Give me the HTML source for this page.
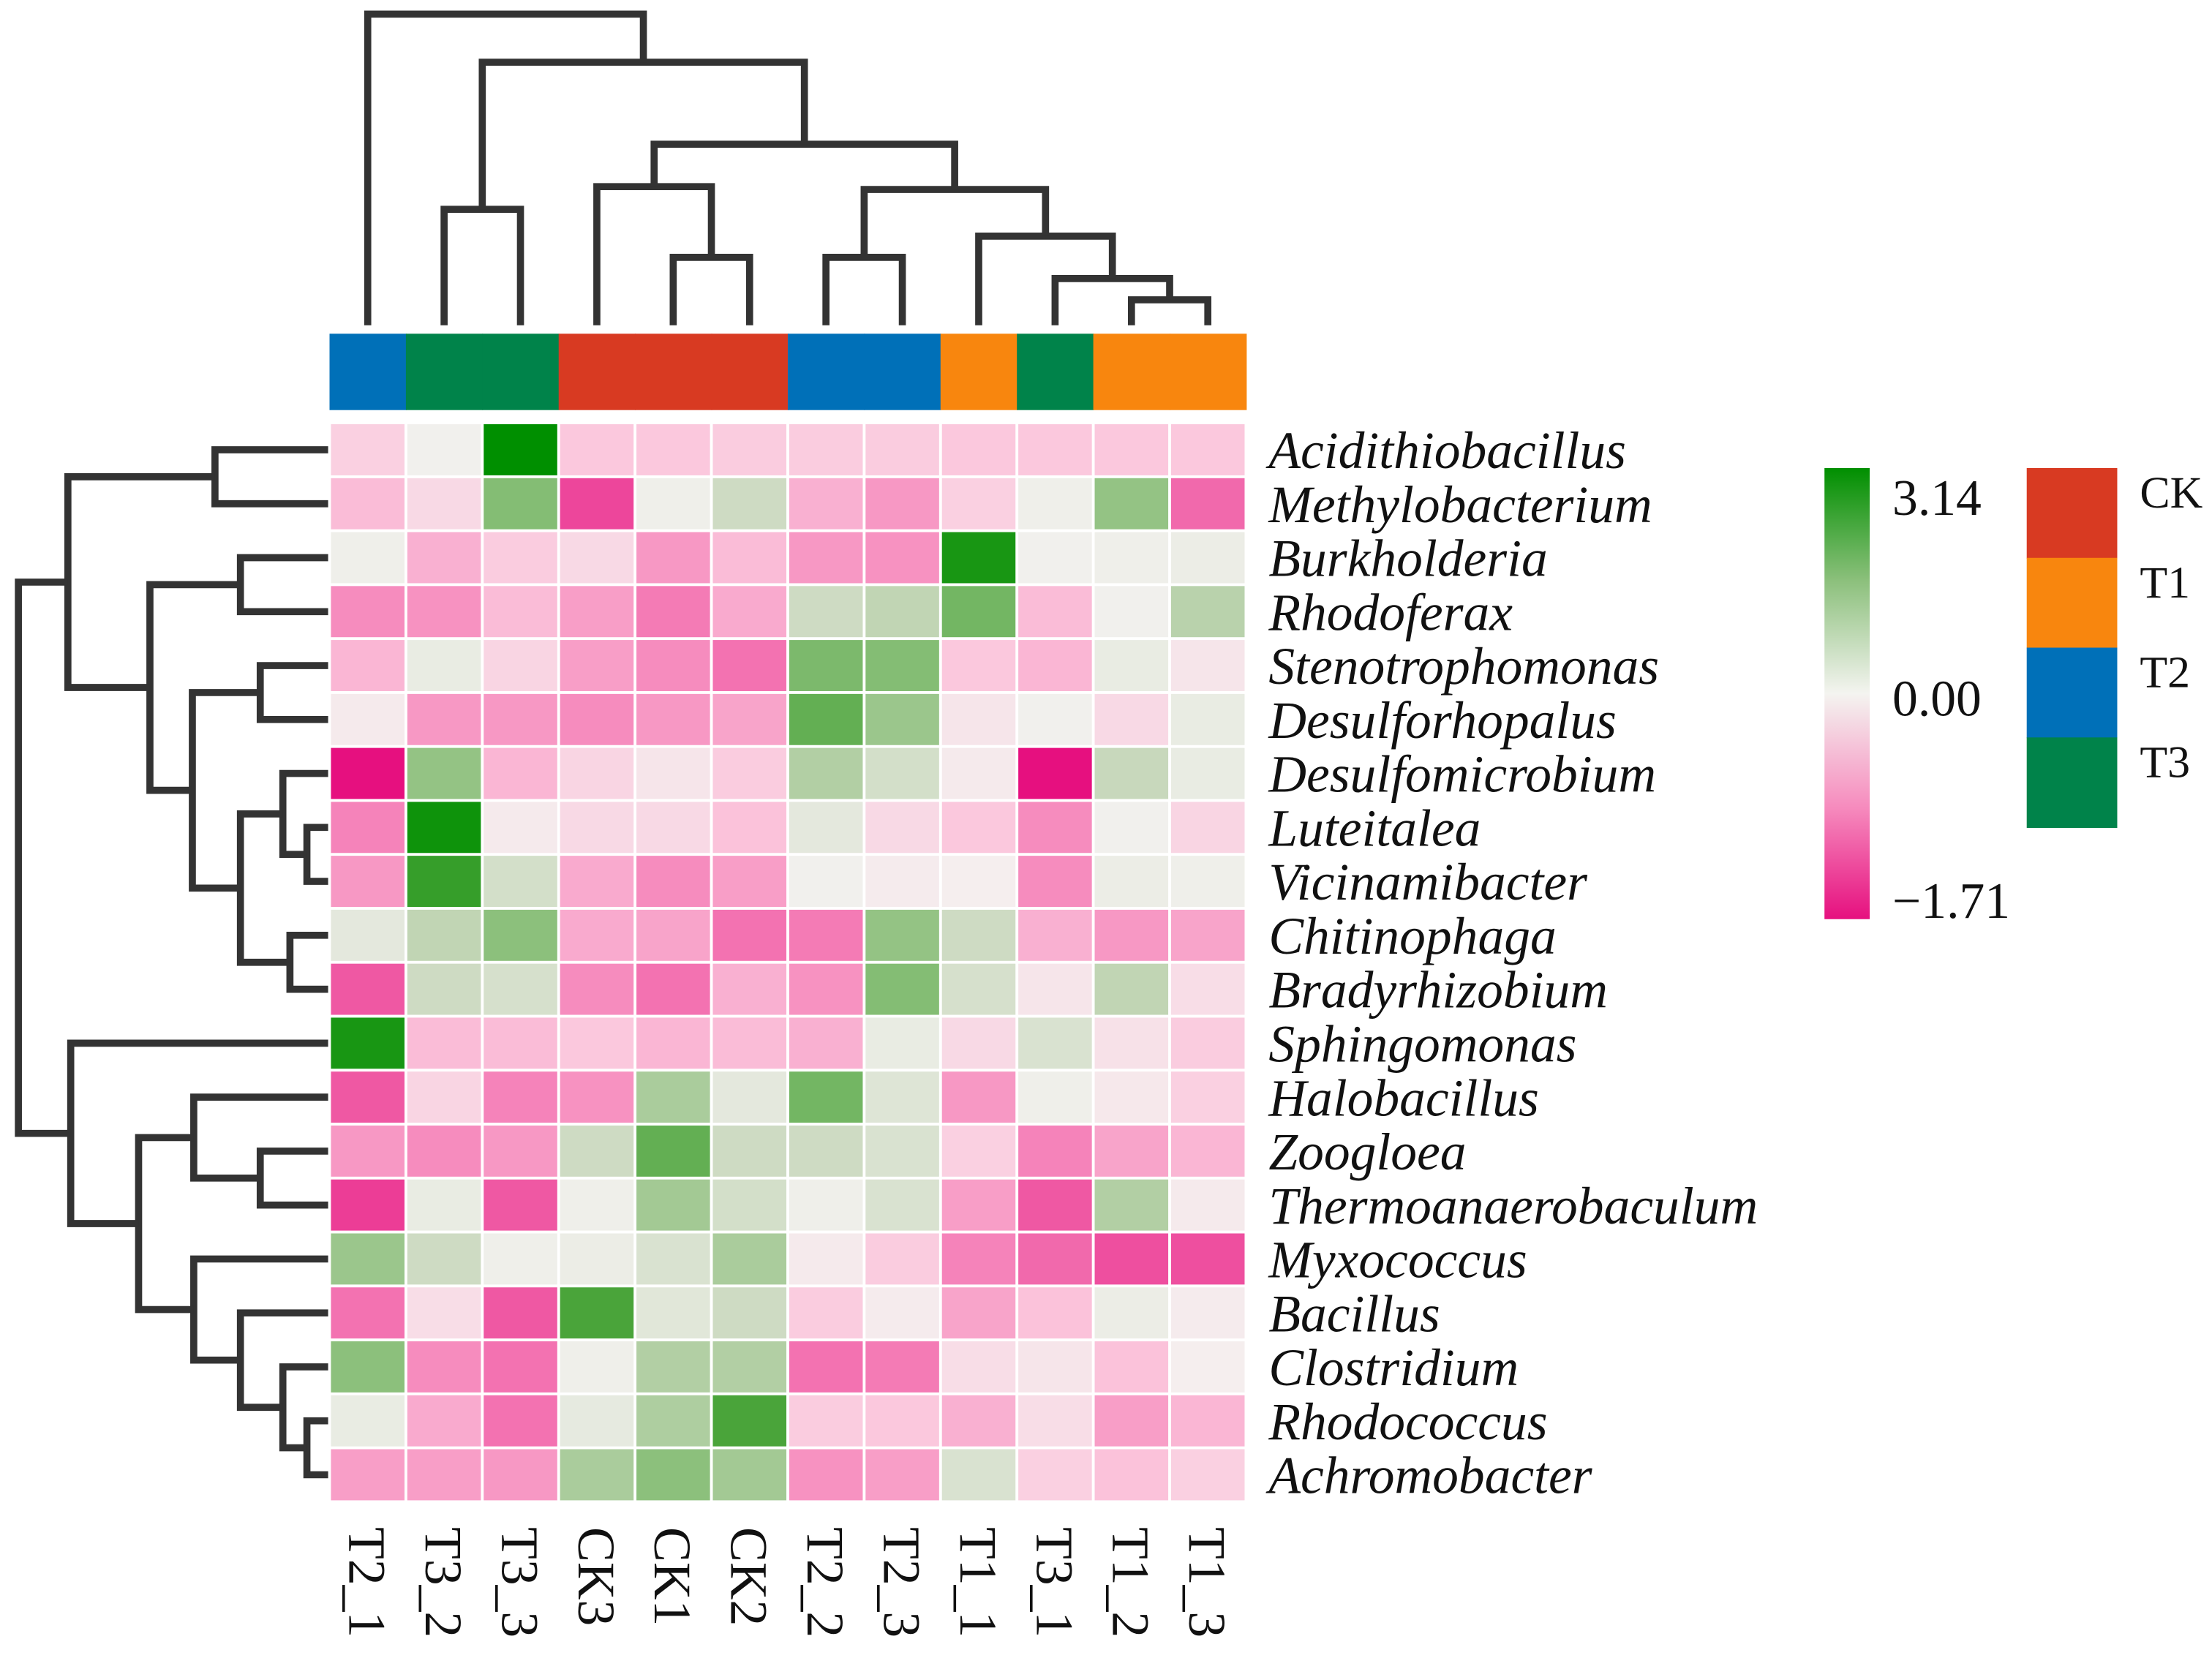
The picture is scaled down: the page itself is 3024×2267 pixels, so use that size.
<!DOCTYPE html>
<html><head><meta charset="utf-8"><style>
html,body{margin:0;padding:0;background:#fff;}
svg{display:block;}
text{font-family:"Liberation Serif","Times New Roman",serif;fill:#111;}
</style></head><body>
<svg id="chart" xmlns="http://www.w3.org/2000/svg" width="3024" height="2267" viewBox="0 0 1564 1172.5" preserveAspectRatio="none">
<g id="dendro" fill="none" stroke="#333" stroke-width="5"></g>
<g id="annot"></g>
<g id="cells"></g>
<g id="rowlabels"></g>
<g id="collabels"></g>
<defs><linearGradient id="cbar" x1="0" y1="0" x2="0" y2="1">
<stop offset="0" stop-color="#008f00"/><stop offset="0.25" stop-color="#8cc07c"/><stop offset="0.5" stop-color="#f4f4f0"/><stop offset="0.75" stop-color="#f68cbe"/><stop offset="1" stop-color="#e6107f"/></linearGradient></defs>
<rect x="1290" y="331" width="32" height="319" fill="url(#cbar)"/>
<text x="1338" y="364" font-size="36">3.14</text>
<text x="1338" y="506" font-size="36">0.00</text>
<text x="1338" y="649" font-size="36">−1.71</text>
<g id="glegend"></g>
</svg>
<script>
const cols=["T2_1","T3_2","T3_3","CK3","CK1","CK2","T2_2","T2_3","T1_1","T3_1","T1_2","T1_3"];
const colGroups=["T2","T3","T3","CK","CK","CK","T2","T2","T1","T3","T1","T1"];
const rows=["Acidithiobacillus","Methylobacterium","Burkholderia","Rhodoferax","Stenotrophomonas","Desulforhopalus","Desulfomicrobium","Luteitalea","Vicinamibacter","Chitinophaga","Bradyrhizobium","Sphingomonas","Halobacillus","Zoogloea","Thermoanaerobaculum","Myxococcus","Bacillus","Clostridium","Rhodococcus","Achromobacter"];
const values=[
[-0.4,0.05,3.14,-0.5,-0.5,-0.45,-0.45,-0.45,-0.5,-0.5,-0.5,-0.5],
[-0.6,-0.3,1.7,-1.4,0.1,0.7,-0.7,-0.9,-0.4,0.1,1.5,-1.2],
[0.1,-0.7,-0.45,-0.3,-0.9,-0.6,-0.9,-0.95,2.9,0.05,0.1,0.15],
[-1.0,-0.95,-0.6,-0.85,-1.1,-0.75,0.7,0.9,1.9,-0.6,0.05,1.0],
[-0.65,0.2,-0.35,-0.85,-1.0,-1.15,1.8,1.7,-0.5,-0.65,0.2,-0.15],
[-0.1,-0.9,-0.9,-1.0,-0.9,-0.8,2.1,1.4,-0.15,0.05,-0.3,0.2],
[-1.71,1.5,-0.65,-0.35,-0.15,-0.45,1.1,0.6,-0.1,-1.71,0.8,0.2],
[-1.05,3.0,-0.1,-0.3,-0.3,-0.55,0.3,-0.3,-0.5,-1.0,0.05,-0.35],
[-0.9,2.6,0.6,-0.75,-1.0,-0.85,0.05,-0.08,-0.05,-1.0,0.15,0.1],
[0.3,0.9,1.6,-0.75,-0.8,-1.15,-1.1,1.5,0.7,-0.7,-0.9,-0.8],
[-1.3,0.7,0.55,-1.0,-1.15,-0.7,-0.95,1.7,0.55,-0.15,0.9,-0.25],
[2.9,-0.6,-0.6,-0.5,-0.65,-0.6,-0.7,0.2,-0.3,0.5,-0.2,-0.45],
[-1.3,-0.35,-1.05,-0.95,1.2,0.3,1.9,0.4,-0.9,0.1,-0.12,-0.4],
[-0.9,-1.0,-0.9,0.7,2.1,0.7,0.7,0.5,-0.4,-1.05,-0.8,-0.65],
[-1.45,0.2,-1.3,0.1,1.3,0.6,0.1,0.5,-0.85,-1.3,1.1,-0.1],
[1.4,0.7,0.1,0.15,0.5,1.2,-0.1,-0.45,-1.05,-1.2,-1.35,-1.35],
[-1.15,-0.25,-1.3,2.4,0.35,0.7,-0.45,-0.08,-0.8,-0.55,0.15,-0.08],
[1.6,-1.0,-1.15,0.1,1.1,1.1,-1.15,-1.1,-0.25,-0.15,-0.55,-0.05],
[0.2,-0.75,-1.15,0.25,1.15,2.4,-0.45,-0.5,-0.7,-0.25,-0.85,-0.65],
[-0.85,-0.85,-0.9,1.2,1.6,1.3,-0.95,-0.85,0.5,-0.4,-0.55,-0.4]];
const groupNames=["CK","T1","T2","T3"];
const groupColors={CK:"#d83a22",T1:"#f8860e",T2:"#0070b8",T3:"#00834a"};

const NS="http://www.w3.org/2000/svg";
const X0=233,Y0=299,CW=54,RH=38.15;
const xPos=i=>X0+CW*i, yPos=j=>Y0+RH*j;
const stops=[[-1.71,[230,16,127]],[-1.0,[246,140,190]],[-0.5,[251,200,221]],[0,[244,242,240]],[0.8,[200,216,188]],[1.6,[140,192,124]],[2.4,[74,164,58]],[3.14,[0,143,0]]];
function color(v){
  if(v<=stops[0][0])return "rgb("+stops[0][1]+")";
  for(let k=1;k<stops.length;k++){if(v<=stops[k][0]){const a=stops[k-1],b=stops[k];const t=(v-a[0])/(b[0]-a[0]);
    return "rgb("+a[1].map((c,i)=>Math.round(c+(b[1][i]-c)*t)).join(",")+")";}}
  return "rgb("+stops[stops.length-1][1]+")";
}
function mk(tag,attrs,parent){const e=document.createElementNS(NS,tag);for(const k in attrs)e.setAttribute(k,attrs[k]);parent.appendChild(e);return e;}
const cells=document.getElementById('cells');
values.forEach((row,j)=>row.forEach((v,i)=>{
  const r=mk('rect',{x:xPos(i)+1,y:yPos(j)+1,width:CW-2,height:RH-2,fill:color(v)},cells);
  
  
}));
const annot=document.getElementById('annot');
colGroups.forEach((g,i)=>{
  const r=mk('rect',{x:xPos(i),y:236,width:CW+0.5,height:54,fill:groupColors[g]},annot);
  
  
});
const rl=document.getElementById('rowlabels');
rows.forEach((n,j)=>{
  const t=mk('text',{x:897,y:yPos(j)+RH/2+13,'font-size':37,'font-style':'italic'},rl);t.textContent=n;
  
  
});
const cl=document.getElementById('collabels');
cols.forEach((n,i)=>{
  const cx=xPos(i)+CW/2-13;
  const t=mk('text',{x:cx,y:1080,'font-size':37,transform:`rotate(90 ${cx} 1080)`},cl);t.textContent=n;
  
  
});
const gl=document.getElementById('glegend');
groupNames.forEach((g,k)=>{
  const r=mk('rect',{x:1433,y:331+63.5*k,width:64,height:64,fill:groupColors[g]},gl);
  
  
  const t=mk('text',{x:1513,y:359+63.5*k,'font-size':32},gl);t.textContent=g;
  
  
});
const dg=document.getElementById('dendro');
function topBranch(x1,x2,y,y1,y2){const p=mk('path',{d:`M${x1},${y1}V${y}H${x2}V${y2}`},dg);}
function leftBranch(y1,y2,x,x1,x2){const p=mk('path',{d:`M${x1},${y1}H${x}V${y2}H${x2}`},dg);}
const C=i=>xPos(i)+CW/2, R=j=>yPos(j)+RH/2, L=230, RL=232;
topBranch(C(10),C(11),212,L,L);
topBranch(C(9),(C(10)+C(11))/2,197,L,212);
topBranch(C(8),(C(9)+827)/2,167,L,197);
topBranch(C(6),C(7),182,L,L);
topBranch((C(6)+C(7))/2,(C(8)+786.5)/2,134,182,167);
topBranch(C(4),C(5),182,L,L);
topBranch(C(3),(C(4)+C(5))/2,132,L,182);
topBranch(462.5,675,102,132,134);
topBranch(C(1),C(2),148,L,L);
topBranch(341,568.75,44,148,102);
topBranch(C(0),454.9,10,L,44);
leftBranch(R(0),R(1),152,RL,RL);
leftBranch(R(2),R(3),170,RL,RL);
leftBranch(R(4),R(5),184,RL,RL);
leftBranch(R(7),R(8),217,RL,RL);
leftBranch(R(6),(R(7)+R(8))/2,200,RL,217);
leftBranch(R(9),R(10),205,RL,RL);
const a=(R(6)+(R(7)+R(8))/2)/2, b=(R(9)+R(10))/2;
leftBranch(a,b,170,200,205);
const c=(R(4)+R(5))/2, d=(a+b)/2;
leftBranch(c,d,136,184,170);
const e=(R(2)+R(3))/2, f=(c+d)/2;
leftBranch(e,f,106,170,136);
const g1=(R(0)+R(1))/2, h=(e+f)/2;
leftBranch(g1,h,48,152,106);
leftBranch(R(13),R(14),184,RL,RL);
const m=(R(13)+R(14))/2;
leftBranch(R(12),m,137,RL,184);
leftBranch(R(18),R(19),217,RL,RL);
const n1=(R(18)+R(19))/2;
leftBranch(R(17),n1,200,RL,217);
const o=(R(17)+n1)/2;
leftBranch(R(16),o,170,RL,200);
const p1=(R(16)+o)/2;
leftBranch(R(15),p1,137,RL,170);
const q=(R(12)+m)/2, s=(R(15)+p1)/2;
leftBranch(q,s,98,137,137);
const u=(q+s)/2;
leftBranch(R(11),u,50,RL,98);
const w=(g1+h)/2, z=(R(11)+u)/2;
leftBranch(w,z,13,48,50);
</script>
</body></html>
